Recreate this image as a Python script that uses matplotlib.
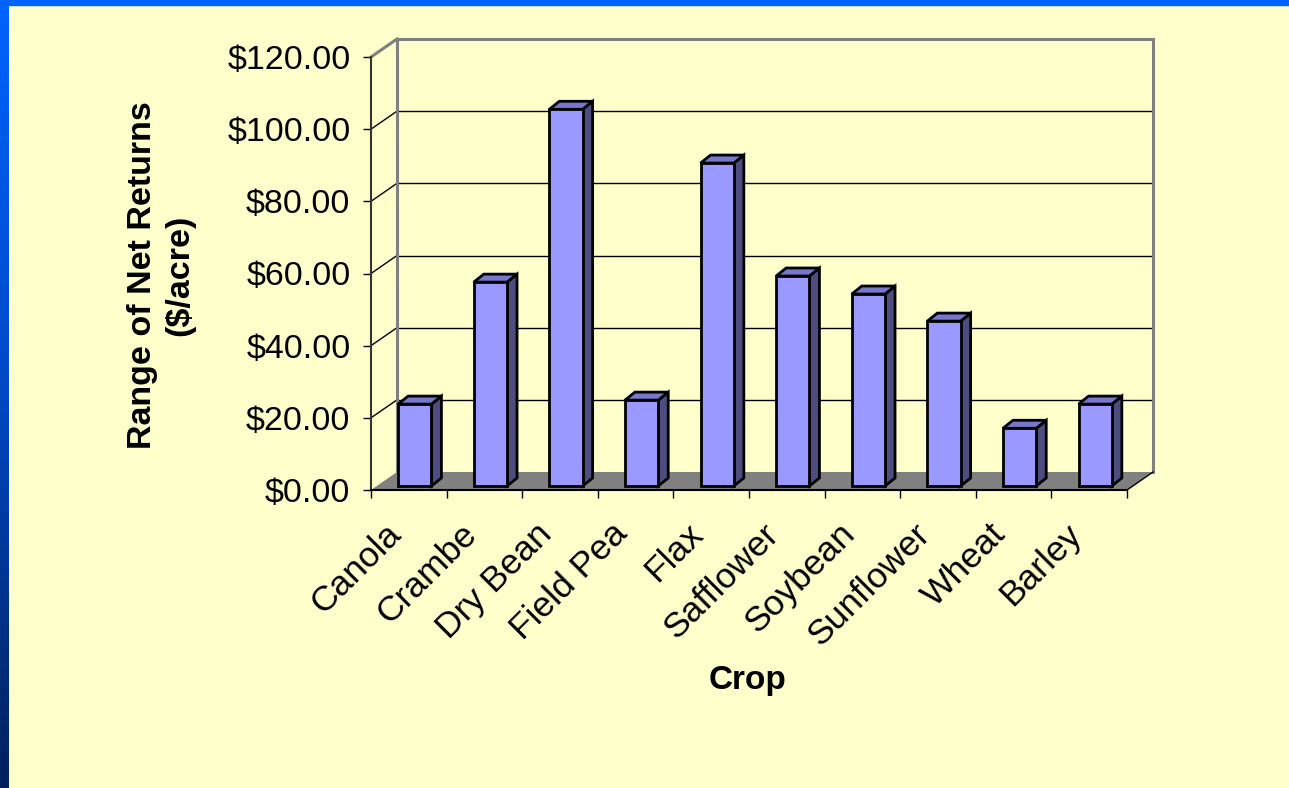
import numpy as np
import matplotlib
matplotlib.use('Agg')
import matplotlib.pyplot as plt
from matplotlib.patches import Polygon, Rectangle
from matplotlib.transforms import IdentityTransform, ScaledTranslation
from matplotlib.colors import LinearSegmentedColormap

crops = ['Canola', 'Crambe', 'Dry Bean', 'Field Pea', 'Flax', 'Safflower',
         'Soybean', 'Sunflower', 'Wheat', 'Barley']
net_range = [22.7, 56.5, 104.4, 23.8, 89.5, 58.2, 53.2, 45.7, 16.0, 22.7]
y_ticks = [0, 20, 40, 60, 80, 100, 120]

W, H, DPI = 1289, 788, 100
BG = '#FFFFCC'
plt.rcParams['font.family'] = ['Liberation Sans', 'DejaVu Sans']

fig = plt.figure(figsize=(W / DPI, H / DPI), dpi=DPI)
fig.patch.set_facecolor(BG)

# blue slide frame (left gradient + top strip)
grad = np.linspace(0, 1, 256).reshape(-1, 1)
frame_cmap = LinearSegmentedColormap.from_list('frame', ['#0064FF', '#0048C4', '#00205C'])
side = fig.add_axes([0, 0, 9 / W, 1])
side.imshow(grad, aspect='auto', cmap=frame_cmap)
side.axis('off')
fig.add_artist(Rectangle((0, 1 - 5 / H), 1, 5 / H, transform=fig.transFigure,
                         color='#0062FF', zorder=5))

ax = fig.add_axes([371 / W, 298 / H, 756 / W, 433 / H])
ax.patch.set_alpha(0)
ax.set_xlim(-0.5, len(crops) - 0.5)
ax.set_ylim(0, 120)

# pseudo-3d depth vectors in pixels
WALL = np.array([26, 18])
BAR_OFF = np.array([6, 4])
BAR_D = np.array([10, 8])
ident = IdentityTransform()


def px(x, y, shift=(0, 0)):
    return ax.transData.transform((x, y)) + np.asarray(shift)


def seg(p, q, **kw):
    ax.add_line(plt.Line2D([p[0], q[0]], [p[1], q[1]], transform=ident, clip_on=False, **kw))


x_lo, x_hi = -0.5, len(crops) - 0.5

# floor
floor = Polygon([px(x_lo, 0), px(x_hi, 0), px(x_hi, 0, WALL), px(x_lo, 0, WALL)],
                closed=True, transform=ident, facecolor='#808080', edgecolor='none',
                clip_on=False, zorder=1)
ax.add_patch(floor)

# gridlines on back wall and side wall
for v in y_ticks[1:-1]:
    seg(px(x_lo, v, WALL), px(x_hi, v, WALL), color='black', lw=1, zorder=1.5)
    seg(px(x_lo, v), px(x_lo, v, WALL), color='black', lw=1, zorder=1.5)

top = y_ticks[-1]
wall_kw = dict(color='#808080', lw=2.2, zorder=1.6, solid_capstyle='projecting')
seg(px(x_lo, top, WALL), px(x_hi, top, WALL), **wall_kw)
seg(px(x_lo, top), px(x_lo, top, WALL), **wall_kw)
seg(px(x_lo, 0, WALL), px(x_lo, top, WALL), **wall_kw)
seg(px(x_hi, 0, WALL), px(x_hi, top, WALL), **wall_kw)
seg(px(x_hi, 0), px(x_hi, 0, WALL), color='black', lw=1, zorder=1.7)

# bars
bw = 0.44
shift = ScaledTranslation(BAR_OFF[0] / DPI, BAR_OFF[1] / DPI, fig.dpi_scale_trans)
ax.bar(range(len(crops)), net_range, width=bw, color='#9999FF', edgecolor='black',
       linewidth=2, transform=ax.transData + shift, clip_on=False, zorder=4)
for i, v in enumerate(net_range):
    x0, x1 = i - bw / 2, i + bw / 2
    side_face = Polygon([px(x1, 0, BAR_OFF), px(x1, v, BAR_OFF),
                         px(x1, v, BAR_OFF + BAR_D), px(x1, 0, BAR_OFF + BAR_D)],
                        closed=True, transform=ident, facecolor='#4D4D80',
                        edgecolor='black', lw=2, clip_on=False, zorder=3)
    top_face = Polygon([px(x0, v, BAR_OFF), px(x1, v, BAR_OFF),
                        px(x1, v, BAR_OFF + BAR_D), px(x0, v, BAR_OFF + BAR_D)],
                       closed=True, transform=ident, facecolor='#7777CC',
                       edgecolor='black', lw=2, clip_on=False, zorder=3)
    ax.add_patch(side_face)
    ax.add_patch(top_face)

ax.set_xlim(x_lo, x_hi)
ax.set_ylim(0, 120)

# axes styling
for s in ['top', 'right']:
    ax.spines[s].set_visible(False)
ax.spines['left'].set_color('#333333')
ax.spines['left'].set_linewidth(1.5)
ax.spines['bottom'].set_color('black')
ax.spines['bottom'].set_linewidth(1.5)

ax.set_yticks(y_ticks)
ax.set_yticklabels([f'${v:.2f}' for v in y_ticks])
ax.tick_params(axis='y', direction='out', length=5.8, width=1, labelsize=24.5, pad=9)

ax.set_xticks(range(len(crops)))
ax.set_xticklabels(crops, rotation=45, ha='right', va='center', rotation_mode='anchor')
ax.set_xticks(np.arange(x_lo, x_hi + 0.1, 1), minor=True)
ax.tick_params(axis='x', which='major', length=0, labelsize=25.5, pad=28)
ax.tick_params(axis='x', which='minor', direction='out', length=5.8, width=1)
lab_shift = ScaledTranslation(-13 / DPI, 0, fig.dpi_scale_trans)
for lab in ax.get_xticklabels():
    lab.set_transform(lab.get_transform() + lab_shift)

fig.text(161 / W, 1 - 275 / H, 'Range of Net Returns\n($/acre)', rotation=90,
         ha='center', va='center', fontsize=24.5, fontweight='bold',
         linespacing=1.25, multialignment='center')
fig.text(748 / W, 1 - 680 / H, 'Crop', ha='center', va='center',
         fontsize=24, fontweight='bold')

fig.savefig('out.png', dpi=DPI, facecolor=BG)
